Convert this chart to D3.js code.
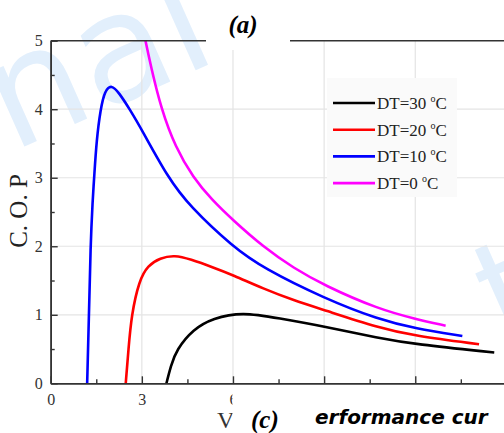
<!DOCTYPE html>
<html>
<head>
<meta charset="utf-8">
<script src="https://cdn.jsdelivr.net/npm/d3@7"></script>
<style>
  body { margin: 0; background: #fff; }
  svg { display: block; }
</style>
</head>
<body>
<svg id="chart" width="504" height="433"></svg>
<script>
// series, [x, C.O.P]
var dt0 = [[3.12, 5], [3.3, 4.62], [3.64, 4.0], [4.1, 3.45], [4.69, 3.0], [5.3, 2.68],
    [6.0, 2.38], [7.0, 1.99], [8.0, 1.68], [9.0, 1.43], [10.8, 1.08], [12.0, 0.94], [13.0, 0.84]];
var dt10 = [[1.20, 0], [1.26, 1], [1.31, 2], [1.38, 2.67], [1.43, 3], [1.51, 3.55], [1.64, 4],
    [1.78, 4.27], [2.0, 4.36], [2.25, 4.24], [2.6, 4.0], [3.0, 3.7], [3.86, 3.0], [4.58, 2.58],
    [6.0, 1.99], [7.0, 1.68], [9.0, 1.24], [10.8, 0.93], [12.0, 0.80], [13.55, 0.69]];
var dt20 = [[2.47, 0], [2.56, 0.5], [2.66, 1.0], [2.91, 1.5], [3.2, 1.72], [3.6, 1.83], [4.08, 1.87],
    [4.6, 1.81], [5.3, 1.70], [6.0, 1.58], [7.0, 1.38], [8.0, 1.21], [9.0, 1.07], [10.8, 0.81],
    [12.0, 0.69], [14.1, 0.57]];
var dt30 = [[3.81, 0], [3.95, 0.25], [4.14, 0.49], [4.69, 0.79], [5.34, 0.95], [6.3, 1.04],
    [7.5, 0.95], [9.0, 0.83], [10.8, 0.66], [12.0, 0.57], [14.6, 0.45]];

var legendLabels = ['DT=30 ', 'DT=20 ', 'DT=10 ', 'DT=0 '];
var seriesColors = ['#000000', '#ff0000', '#0000ff', '#ff00ff'];
var xTicks = [0, 3, 6, 9, 12, 15];
var xTickLabels = ['0', '3', '6', '', '', ''];
var xMinor = [1.5, 4.5, 7.5, 10.5, 13.5];
var yTicks = [0, 1, 2, 3, 4, 5];
var yMinor = [0.5, 1.5, 2.5, 3.5, 4.5];

var svg = d3.select('#chart');
var x = d3.scaleLinear().domain([0, 15]).range([50.7, 50.7 + 15 * 30.38]);
var y = d3.scaleLinear().domain([0, 5]).range([383.3, 40.7]);
var serif = '"Liberation Serif", "Times New Roman", serif';

// watermark
svg.append('text')
    .attr('transform', 'translate(12,152)rotate(-24)')
    .style('font-family', '"DejaVu Sans", sans-serif')
    .style('font-size', '150px')
    .style('fill', '#e2effc')
    .text('nal');
svg.append('text')
    .attr('transform', 'translate(503,345)rotate(-24)')
    .style('font-family', '"DejaVu Sans", sans-serif')
    .style('font-size', '140px')
    .style('fill', '#e2effc')
    .text('t');

// grid
svg.append('g').selectAll('line').data([3, 6, 9, 12]).enter().append('line')
    .attr('x1', function (d) { return x(d); }).attr('x2', function (d) { return x(d); })
    .attr('y1', y(5)).attr('y2', y(0))
    .attr('stroke', '#e4e4e4').attr('stroke-width', 1.2);
svg.append('g').selectAll('line').data([1, 2, 3, 4]).enter().append('line')
    .attr('x1', x(0)).attr('x2', 504)
    .attr('y1', function (d) { return y(d); }).attr('y2', function (d) { return y(d); })
    .attr('stroke', '#e4e4e4').attr('stroke-width', 1.2);

// legend box
svg.append('rect')
    .attr('x', 327).attr('y', 78).attr('width', 130).attr('height', 119)
    .attr('fill', '#fafafa');

// curves
var line = d3.line()
    .x(function (d) { return x(d[0]); })
    .y(function (d) { return y(d[1]); })
    .curve(d3.curveBasis);

var allSeries = [dt30, dt20, dt10, dt0];
svg.append('g').selectAll('path').data(allSeries).enter().append('path')
    .attr('d', line)
    .attr('fill', 'none')
    .attr('stroke', function (d, i) { return seriesColors[i]; })
    .attr('stroke-width', 2.6);

// axes
var xAxis = svg.append('g')
    .attr('transform', 'translate(0,' + y(0) + ')')
    .call(d3.axisBottom(x).tickValues(xTicks).tickSize(-7).tickSizeOuter(0).tickPadding(10)
        .tickFormat(function (d, i) { return xTickLabels[i]; }));
var xAxisMinor = svg.append('g')
    .attr('transform', 'translate(0,' + y(0) + ')')
    .call(d3.axisBottom(x).tickValues(xMinor).tickSize(-4).tickSizeOuter(0).tickFormat(''));
var yAxis = svg.append('g')
    .attr('transform', 'translate(' + x(0) + ',0)')
    .call(d3.axisLeft(y).tickValues(yTicks).tickSize(-7).tickSizeOuter(0).tickPadding(8)
        .tickFormat(d3.format('d')));
var yAxisMinor = svg.append('g')
    .attr('transform', 'translate(' + x(0) + ',0)')
    .call(d3.axisLeft(y).tickValues(yMinor).tickSize(-4).tickSizeOuter(0).tickFormat(''));

[xAxis, xAxisMinor, yAxis, yAxisMinor].forEach(function (g) {
    g.selectAll('path').attr('stroke', '#333').attr('stroke-width', 1.6);
    g.selectAll('line').attr('stroke', '#333').attr('stroke-width', 1.4);
    g.selectAll('text')
        .style('font-family', serif)
        .style('font-size', '16px')
        .style('fill', '#333');
});

// top frame
svg.append('line')
    .attr('x1', x(0)).attr('x2', 504).attr('y1', y(5)).attr('y2', y(5))
    .attr('stroke', '#333').attr('stroke-width', 1.6);

// y label
svg.append('text')
    .attr('transform', 'translate(27,211)rotate(-90)')
    .style('text-anchor', 'middle')
    .style('font-family', serif)
    .style('font-size', '25px')
    .style('fill', '#222')
    .text('C. O. P');

// x label, cut by the page overlay
svg.append('text')
    .attr('x', 217).attr('y', 428)
    .style('font-family', serif)
    .style('font-size', '24px')
    .style('fill', '#333')
    .text('V');

// white patches of the page over the figure
svg.append('rect').attr('x', 206).attr('y', 0).attr('width', 84).attr('height', 50).attr('fill', '#fff');
svg.append('rect').attr('x', 232.5).attr('y', 392).attr('width', 272).attr('height', 41).attr('fill', '#fff');

svg.append('text')
    .attr('x', 243).attr('y', 33)
    .style('text-anchor', 'middle')
    .style('font-family', serif)
    .style('font-size', '25px')
    .style('font-weight', 'bold')
    .style('font-style', 'italic')
    .text('(a)');
svg.append('text')
    .attr('x', 251).attr('y', 428)
    .style('font-family', serif)
    .style('font-size', '25px')
    .style('font-weight', 'bold')
    .style('font-style', 'italic')
    .text('(c)');
svg.append('text')
    .attr('x', 315).attr('y', 424)
    .style('font-family', '"DejaVu Sans", sans-serif')
    .style('font-size', '20px')
    .style('font-weight', 'bold')
    .style('font-style', 'italic')
    .text('erformance cur');

// legend
var legendRows = svg.append('g').selectAll('g').data(legendLabels).enter().append('g')
    .attr('transform', function (d, i) { return 'translate(0,' + (103 + i * 26.7) + ')'; });
legendRows.append('line')
    .attr('x1', 333).attr('x2', 375)
    .attr('stroke', function (d, i) { return seriesColors[i]; })
    .attr('stroke-width', 2.6);
var legendText = legendRows.append('text')
    .attr('x', 377).attr('y', 6)
    .style('font-family', serif)
    .style('font-size', '17px')
    .style('fill', '#222');
legendText.append('tspan').text(function (d) { return d; });
legendText.append('tspan').attr('dy', -7).style('font-size', '10px').text('o');
legendText.append('tspan').attr('dy', 7).text('C');
</script>
</body>
</html>
